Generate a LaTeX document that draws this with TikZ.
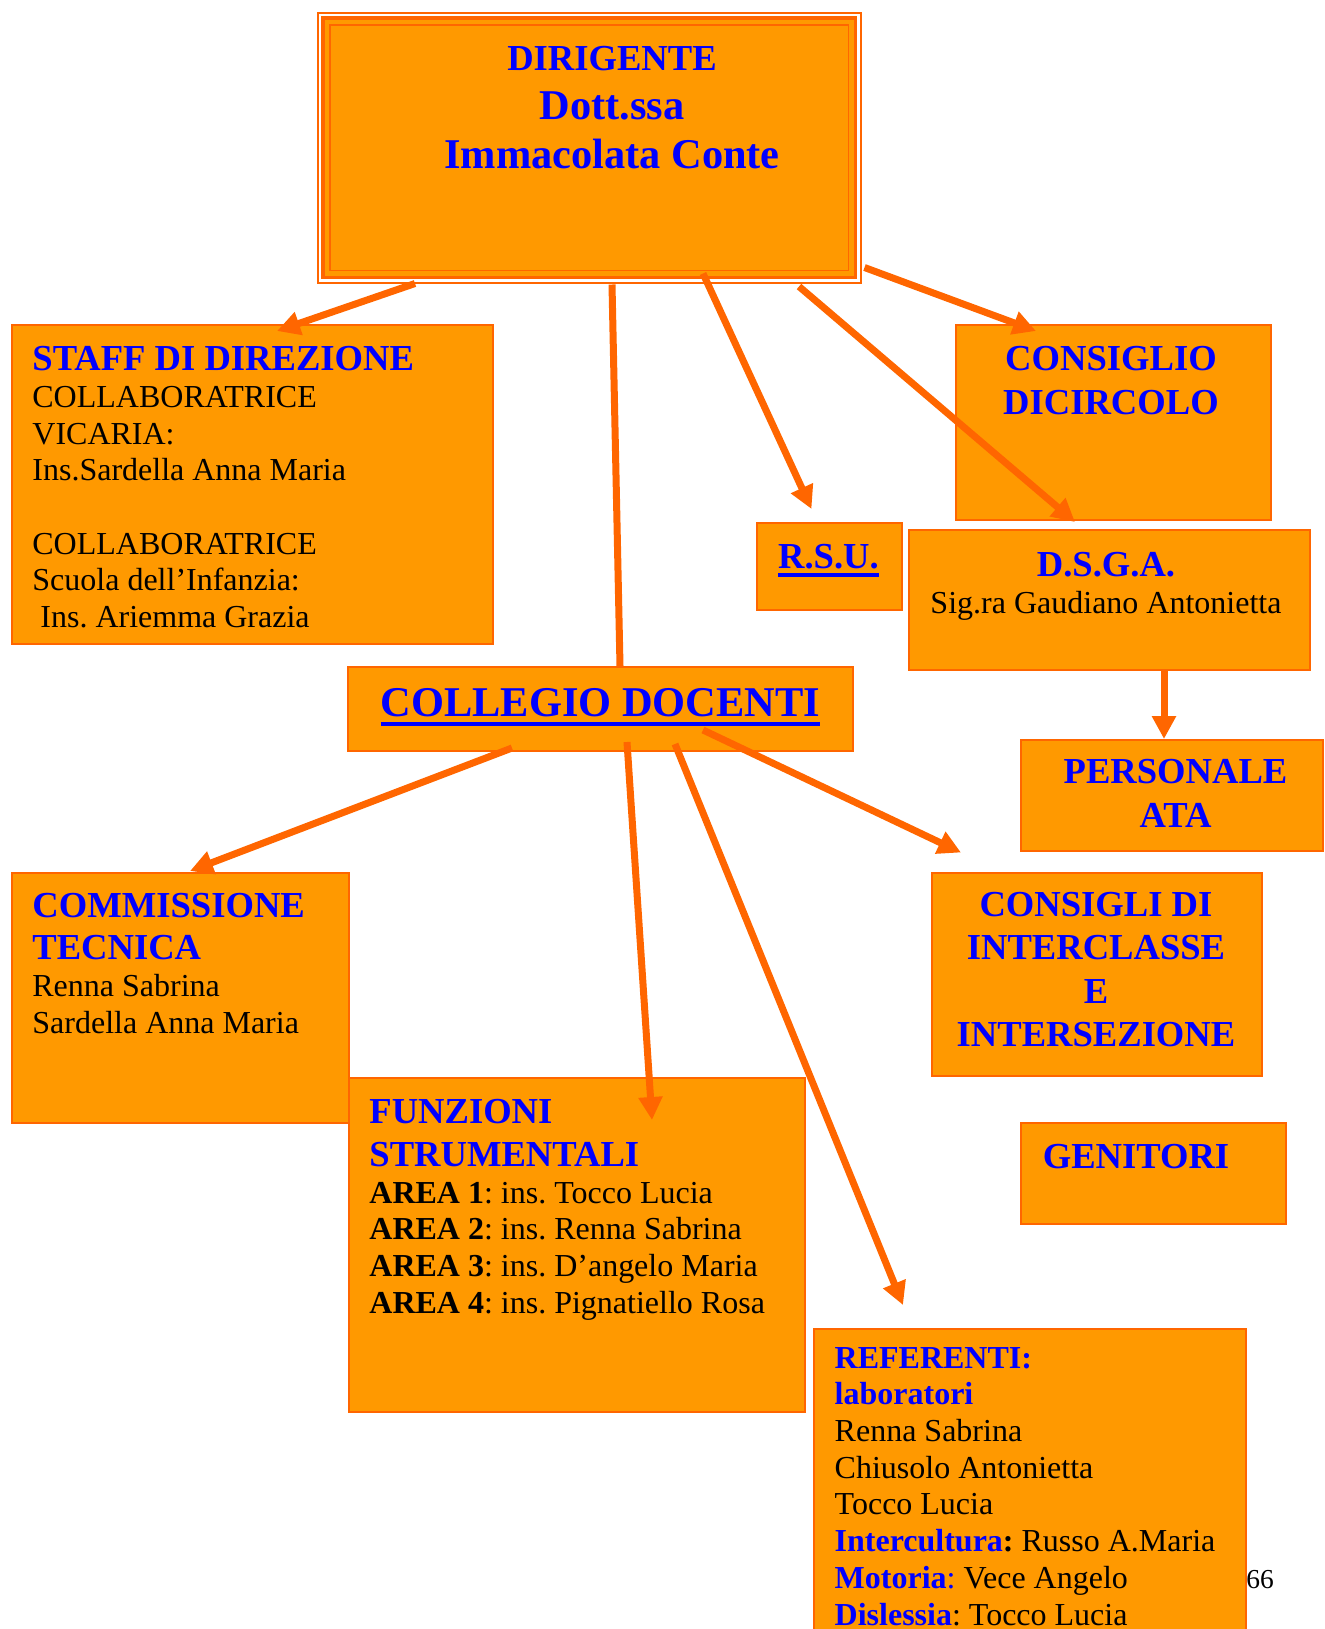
\documentclass[tikz,border=0pt]{standalone}
\usepackage{fontspec}
\setmainfont{Liberation Serif}
\usetikzlibrary{arrows.meta}
\frenchspacing
\definecolor{arancio}{HTML}{FF9900}
\definecolor{linea}{HTML}{FF6600}
\definecolor{blu}{HTML}{0000FF}
\newcommand{\fcorpo}{\fontsize{16}{18.35}\selectfont}
\newcommand{\ftitolo}{\bfseries\fontsize{18.3}{21.7}\selectfont}
\newcommand{\fgrande}{\bfseries\fontsize{21.2}{24.4}\selectfont}
\newcommand{\intest}[1]{{\color{blu}\ftitolo #1}}
\newcommand{\sottol}[1]{\vtop{\hbox{#1}\kern2.2pt\hrule height 2pt}}

\begin{document}
\begin{tikzpicture}[x=0.5pt,y=-0.5pt,
	box/.style={draw=linea, fill=arancio, line width=1pt, anchor=north west, inner sep=0pt},
	freccia/.style={draw=linea, line width=3.5pt, -{Triangle[length=11.5pt,width=11.5pt]}},
	testo/.style={inner sep=0pt, font=\fcorpo},
	titolo/.style={inner sep=0pt, font=\ftitolo, text=blu}]
	\useasboundingbox (0,0) rectangle (1324,1629);
	\clip (0,0) rectangle (1324,1629);

	% dirigente, framed three times
	\node[box, fill=white, line width=0.75pt, minimum width=271.5pt, minimum height=135pt] (dir) at (317,12) {};
	\draw[linea, fill=arancio, line width=1.75pt] ([shift={(6,6)}]dir.north west) rectangle ([shift={(-6,-6)}]dir.south east);
	\draw[linea, line width=0.75pt] ([shift={(13,13)}]dir.north west) rectangle ([shift={(-13,-13)}]dir.south east);
	\node[titolo, font=\fgrande, align=center, anchor=base](dirtxt) at (612,168.3) {{\ftitolo DIRIGENTE}\\Dott.ssa\\Immacolata Conte};

	% boxes
	\node[box, minimum width=240.5pt, minimum height=159.5pt](staff) at (11,324) {};
	\node[box, minimum width=157.5pt, minimum height=97.5pt](circolo) at (955,324) {};
	\node[box, minimum width=72.75pt, minimum height=43.5pt](rsu) at (755.5,522) {};
	\node[box, minimum width=200.5pt, minimum height=70pt](dsga) at (908,529) {};
	\node[box, minimum width=252.5pt, minimum height=42pt](collegio) at (347,666) {};
	\node[box, minimum width=151pt, minimum height=55.5pt](ata) at (1020,739) {};
	\node[box, minimum width=228.25pt, minimum height=167pt](funz) at (347.5,1077) {};
	\node[box, minimum width=168.5pt, minimum height=125pt](comm) at (11,872) {};
	\node[box, minimum width=165pt, minimum height=101.5pt](inter) at (931,872) {};
	\node[box, minimum width=132.75pt, minimum height=50.25pt](geni) at (1019.5,1122) {};
	\node[box, minimum width=216pt, minimum height=170pt](ref) at (813,1327.5) {};

	% texts (multi-line nodes sit on their last baseline)
	\node[testo, align=left, anchor=base west](stafftxt) at (32,627.5) {\intest{STAFF DI DIREZIONE}\\COLLABORATRICE\\VICARIA:\\Ins.Sardella Anna Maria\\[18.35pt]COLLABORATRICE\\Scuola dell'Infanzia:\\\ Ins. Ariemma Grazia};
	\node[titolo, align=center, anchor=base](circolotxt) at (1111,414) {CONSIGLIO\\DICIRCOLO};
	\node[titolo, anchor=base](rsutxt) at (828.5,568) {\sottol{R.S.U.}};
	\node[testo, align=center, anchor=base](dsgatxt) at (1106,613) {\intest{D.S.G.A.}\\Sig.ra Gaudiano Antonietta};
	\node[titolo, font=\fgrande, anchor=base](collegiotxt) at (600.5,716.7) {\sottol{COLLEGIO DOCENTI}};
	\node[titolo, align=center, anchor=base](atatxt) at (1175.5,827) {PERSONALE\\ATA};
	\node[testo, align=left, anchor=base west](commtxt) at (32,1033.3) {\intest{COMMISSIONE}\\[3pt]\intest{TECNICA}\\Renna Sabrina\\Sardella Anna Maria};
	\node[titolo, align=center, anchor=base](intertxt) at (1096,1046.7) {CONSIGLI DI\\INTERCLASSE\\E\\INTERSEZIONE};
	\node[testo, align=left, anchor=base west](funztxt) at (369,1313.3) {\intest{FUNZIONI}\\[3.35pt]\intest{STRUMENTALI}\\\textbf{AREA 1}: ins. Tocco Lucia\\\textbf{AREA 2}: ins. Renna Sabrina\\\textbf{AREA 3}: ins. D'angelo Maria\\\textbf{AREA 4}: ins. Pignatiello Rosa};
	\node[titolo, anchor=base](genitxt) at (1136,1168) {GENITORI};
	\node[testo, align=left, anchor=base west](reftxt) at (834.3,1625) {{\color{blu}\bfseries REFERENTI:}\\{\color{blu}\bfseries laboratori}\\Renna Sabrina\\Chiusolo Antonietta\\Tocco Lucia\\{\color{blu}\bfseries Intercultura}\textbf{:} Russo A.Maria\\{\color{blu}\bfseries Motoria}{\color{blu}:} Vece Angelo\\{\color{blu}\bfseries Dislessia}: Tocco Lucia};
	\node[inner sep=0pt, font=\fontsize{13.7}{16}\selectfont, anchor=base west](pag) at (1246,1588) {66};

	% connectors
	\draw[freccia]([shift={(98,0)}]dir.south west) -- ([shift={(266,7)}]staff.north west);
	\draw[draw=linea, line width=3.5pt]([shift={(295,1)}]dir.south west) -- ([shift={(273,0)}]collegio.north west);
	\draw[freccia]([shift={(386,-10)}]dir.south west) -- ([shift={(56,-13)}]rsu.north west);
	\draw[freccia]([shift={(482,3)}]dir.south west) -- ([shift={(167,-7)}]dsga.north west);
	\draw[freccia]([shift={(3,-16)}]dir.south east) -- ([shift={(81,7)}]circolo.north west);
	\draw[freccia]([shift={(256,0)}]dsga.south west) -- ([shift={(144,0)}]ata.north west);

	\draw[freccia]([shift={(165,-4)}]collegio.south west) -- ([shift={(179,-1)}]comm.north west);
	\draw[freccia]([shift={(280,-10)}]collegio.south west) -- ([shift={(304.5,43)}]funz.north west);
	\draw[freccia]([shift={(328,-8)}]collegio.south west) -- ([shift={(90,-22.5)}]ref.north west);
	\draw[freccia]([shift={(356,-22)}]collegio.south west) -- ([shift={(30,-19.5)}]inter.north west);
\end{tikzpicture}
\end{document}
